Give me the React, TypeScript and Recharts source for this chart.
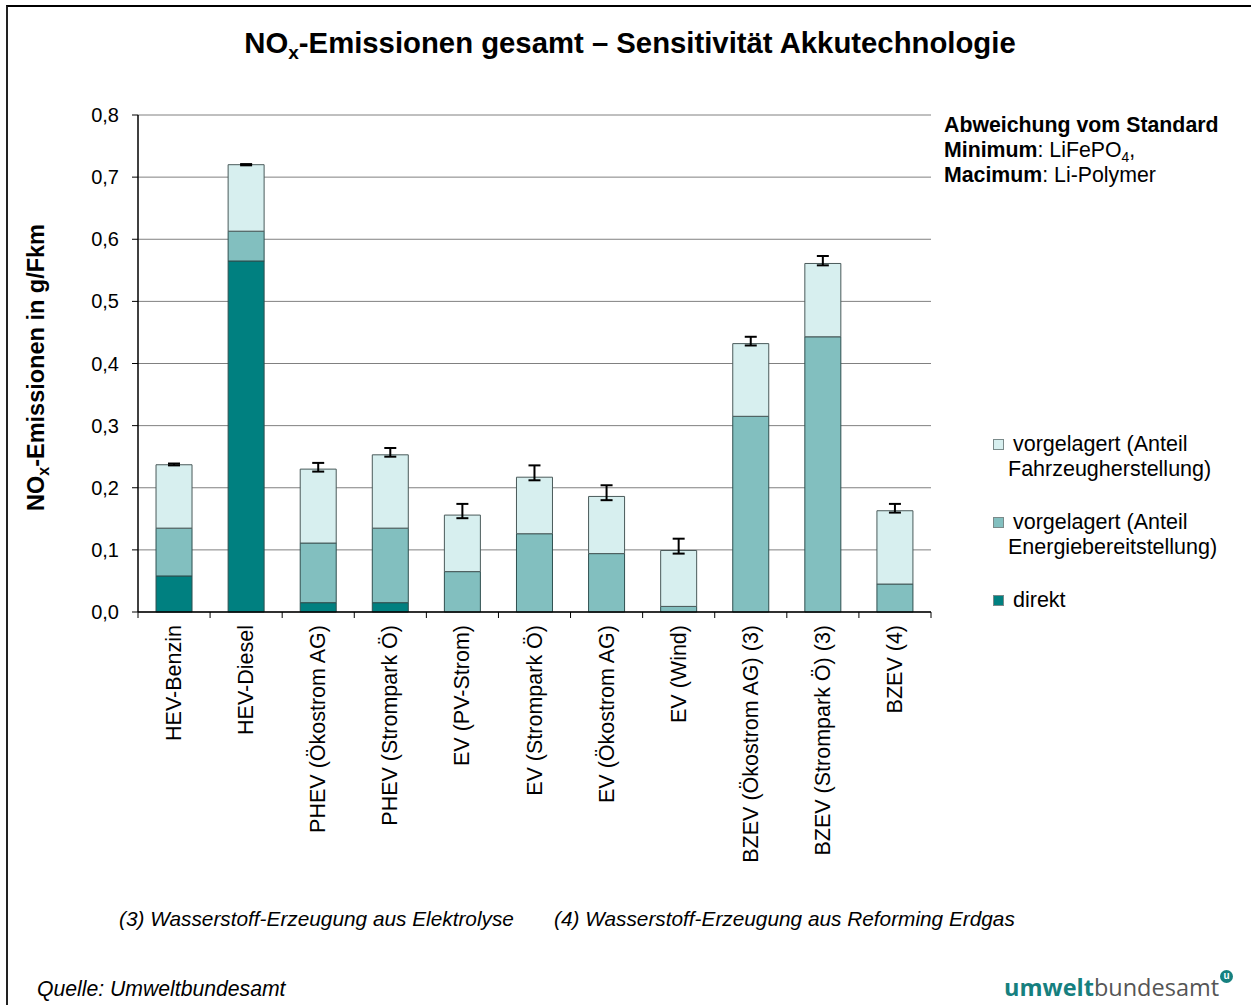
import { BarChart, Bar, XAxis, YAxis, CartesianGrid, ErrorBar, Legend } from "recharts"

const categories = [
  "HEV-Benzin",
  "HEV-Diesel",
  "PHEV (Ökostrom AG)",
  "PHEV (Strompark Ö)",
  "EV (PV-Strom)",
  "EV (Strompark Ö)",
  "EV (Ökostrom AG)",
  "EV (Wind)",
  "BZEV (Ökostrom AG) (3)",
  "BZEV (Strompark Ö) (3)",
  "BZEV (4)",
]

// g/Fkm, stacked segments
const direkt = [0.058, 0.565, 0.015, 0.015, 0, 0, 0, 0, 0, 0, 0]
const energie = [0.077, 0.048, 0.096, 0.12, 0.065, 0.126, 0.094, 0.009, 0.315, 0.443, 0.045]
const fahrzeug = [0.102, 0.107, 0.119, 0.118, 0.091, 0.091, 0.092, 0.09, 0.117, 0.118, 0.118]

// range of total (LiFePO4 ... Li-Polymer)
const minTotal = [0.236, 0.719, 0.226, 0.25, 0.151, 0.212, 0.18, 0.094, 0.429, 0.558, 0.16]
const maxTotal = [0.239, 0.721, 0.24, 0.264, 0.174, 0.236, 0.204, 0.118, 0.443, 0.573, 0.174]

const yTicks = [0, 0.1, 0.2, 0.3, 0.4, 0.5, 0.6, 0.7, 0.8]

const legendItems = [
  { lines: ["vorgelagert (Anteil", "Fahrzeugherstellung)"], color: "#D7EFEF" },
  { lines: ["vorgelagert (Anteil", "Energiebereitstellung)"], color: "#82BFBF" },
  { lines: ["direkt"], color: "#008080" },
]

const FONT = '"Liberation Sans", Arial, sans-serif'

const data = categories.map((name, i) => {
  const total = direkt[i] + energie[i] + fahrzeug[i]
  return {
    name,
    direkt: direkt[i],
    energie: energie[i],
    fahrzeug: fahrzeug[i],
    err: [Math.max(0, total - minTotal[i]), Math.max(0, maxTotal[i] - total)],
  }
})

// label rotated, plus tick marks on the category boundaries (Excel style)
function CategoryTick({ x, y, payload, width, visibleTicksCount, index }: any) {
  const half = width / visibleTicksCount / 2
  const top = y - 8
  return (
    <g>
      {index === 0 && <line x1={x - half} x2={x - half} y1={top} y2={top + 6} stroke="#000" />}
      <line x1={x + half} x2={x + half} y1={top} y2={top + 6} stroke="#000" />
      <text
        transform={`translate(${x},${y + 5}) rotate(-90)`}
        textAnchor="end"
        dominantBaseline="central"
        fontSize={21.5}
        fontFamily={FONT}
        fill="#000"
      >
        {payload.value}
      </text>
    </g>
  )
}

function YLabel({ viewBox }: any) {
  const cx = viewBox.x - 42
  const cy = viewBox.y + viewBox.height / 2 + 4
  return (
    <text
      transform={`translate(${cx},${cy}) rotate(-90)`}
      textAnchor="middle"
      dominantBaseline="central"
      fontSize={23.5}
      fontWeight="bold"
      fontFamily={FONT}
      fill="#000"
    >
      NO
      <tspan fontSize={16} dy={7}>x</tspan>
      <tspan dy={-7}>-Emissionen in g/Fkm</tspan>
    </text>
  )
}

function LegendBox() {
  return (
    <div style={{ fontFamily: FONT, fontSize: 21.5, lineHeight: "25px", color: "#000" }}>
      {legendItems.map((item) => (
        <div key={item.lines[0] + item.lines.length + item.color} style={{ position: "relative", marginBottom: 28 }}>
          <div
            style={{
              position: "absolute",
              left: 3,
              top: 7,
              width: 9,
              height: 9,
              background: item.color,
              border: "1px solid #7a8a8a",
            }}
          />
          <div style={{ paddingLeft: 23, whiteSpace: "nowrap" }}>{item.lines[0]}</div>
          {item.lines[1] && <div style={{ paddingLeft: 18, whiteSpace: "nowrap" }}>{item.lines[1]}</div>}
        </div>
      ))}
    </div>
  )
}

export default function App() {
  return (
    <div
      style={{
        position: "absolute",
        left: 0,
        top: 0,
        width: 1251,
        height: 1005,
        overflow: "hidden",
        background: "#fff",
        fontFamily: FONT,
      }}
    >
      <div
        style={{
          position: "absolute",
          left: 6,
          top: 5,
          width: 1260,
          height: 1010,
          borderLeft: "2px solid #222",
          borderTop: "2px solid #000",
        }}
      />
      <BarChart
        width={1251}
        height={1005}
        data={data}
        margin={{ top: 115, right: 320, bottom: 133, left: 78 }}
        barCategoryGap="25%"
      >
        <CartesianGrid vertical={false} stroke="#808080" />
        <XAxis
          dataKey="name"
          interval={0}
          tickLine={false}
          axisLine={{ stroke: "#000", strokeWidth: 1.5 }}
          tick={<CategoryTick />}
          height={260}
        />
        <YAxis
          domain={[0, 0.8]}
          ticks={yTicks}
          interval={0}
          width={60}
          tickSize={6}
          tickMargin={13}
          tickFormatter={(v: number) => v.toFixed(1).replace(".", ",")}
          tick={{ fill: "#000", fontSize: 20, fontFamily: FONT }}
          tickLine={{ stroke: "#000" }}
          axisLine={{ stroke: "#000", strokeWidth: 1.5 }}
          label={{ content: (props: any) => <YLabel {...props} /> }}
        />
        <YAxis
          yAxisId="r"
          orientation="right"
          width={0}
          tick={false}
          tickLine={false}
          axisLine={{ stroke: "#000", strokeWidth: 1.5 }}
        />
        <Legend
          layout="horizontal"
          verticalAlign="middle"
          content={() => <LegendBox />}
          wrapperStyle={{ left: 990, top: 432, width: 260 }}
        />
        <Bar
          dataKey="direkt"
          stackId="a"
          fill="#008080"
          stroke="#2f4f4f"
          strokeWidth={1}
          isAnimationActive={false}
        />
        <Bar
          dataKey="energie"
          stackId="a"
          fill="#82BFBF"
          stroke="#2f4f4f"
          strokeWidth={1}
          isAnimationActive={false}
        />
        <Bar
          dataKey="fahrzeug"
          stackId="a"
          fill="#D7EFEF"
          stroke="#4a5a5a"
          strokeWidth={1}
          isAnimationActive={false}
        >
          <ErrorBar dataKey="err" width={6} strokeWidth={2} stroke="#000" />
        </Bar>
      </BarChart>

      <div
        style={{
          position: "absolute",
          left: 130,
          width: 1000,
          top: 26,
          textAlign: "center",
          fontSize: 29.3,
          fontWeight: "bold",
          lineHeight: "34px",
          color: "#000",
          whiteSpace: "nowrap",
        }}
      >
        NO<sub style={{ fontSize: "65%", verticalAlign: "-6px", lineHeight: 0 }}>x</sub>-Emissionen gesamt –
        Sensitivität Akkutechnologie
      </div>

      <div
        style={{
          position: "absolute",
          left: 944,
          top: 113,
          fontSize: 21.3,
          lineHeight: "25px",
          color: "#000",
          whiteSpace: "nowrap",
        }}
      >
        <div style={{ fontWeight: "bold" }}>Abweichung vom Standard</div>
        <div>
          <b>Minimum</b>: LiFePO<sub style={{ fontSize: "65%", lineHeight: 0 }}>4</sub>,
        </div>
        <div>
          <b>Macimum</b>: Li-Polymer
        </div>
      </div>

      <div
        style={{
          position: "absolute",
          left: 119,
          top: 907,
          fontSize: 20.8,
          lineHeight: "24px",
          fontStyle: "italic",
          color: "#000",
          whiteSpace: "nowrap",
        }}
      >
        (3) Wasserstoff-Erzeugung aus Elektrolyse
      </div>
      <div
        style={{
          position: "absolute",
          left: 554,
          top: 907,
          fontSize: 20.8,
          lineHeight: "24px",
          fontStyle: "italic",
          color: "#000",
          whiteSpace: "nowrap",
        }}
      >
        (4) Wasserstoff-Erzeugung aus Reforming Erdgas
      </div>
      <div
        style={{
          position: "absolute",
          left: 37,
          top: 977,
          fontSize: 21.2,
          lineHeight: "24px",
          fontStyle: "italic",
          color: "#000",
          whiteSpace: "nowrap",
        }}
      >
        Quelle: Umweltbundesamt
      </div>

      <div
        style={{
          position: "absolute",
          left: 1004,
          top: 973,
          fontSize: 23.5,
          lineHeight: "29px",
          fontFamily: '"Open Sans", "Noto Sans", sans-serif',
          whiteSpace: "nowrap",
        }}
      >
        <span style={{ color: "#16807f", fontWeight: "bold" }}>umwelt</span>
        <span style={{ color: "#555" }}>bundesamt</span>
      </div>
      <div
        style={{
          position: "absolute",
          left: 1220,
          top: 970,
          width: 13,
          height: 13,
          borderRadius: "50%",
          background: "#16807f",
          color: "#fff",
          fontSize: 10,
          lineHeight: "12px",
          textAlign: "center",
          fontWeight: "bold",
          fontFamily: FONT,
        }}
      >
        u
      </div>
    </div>
  )
}
